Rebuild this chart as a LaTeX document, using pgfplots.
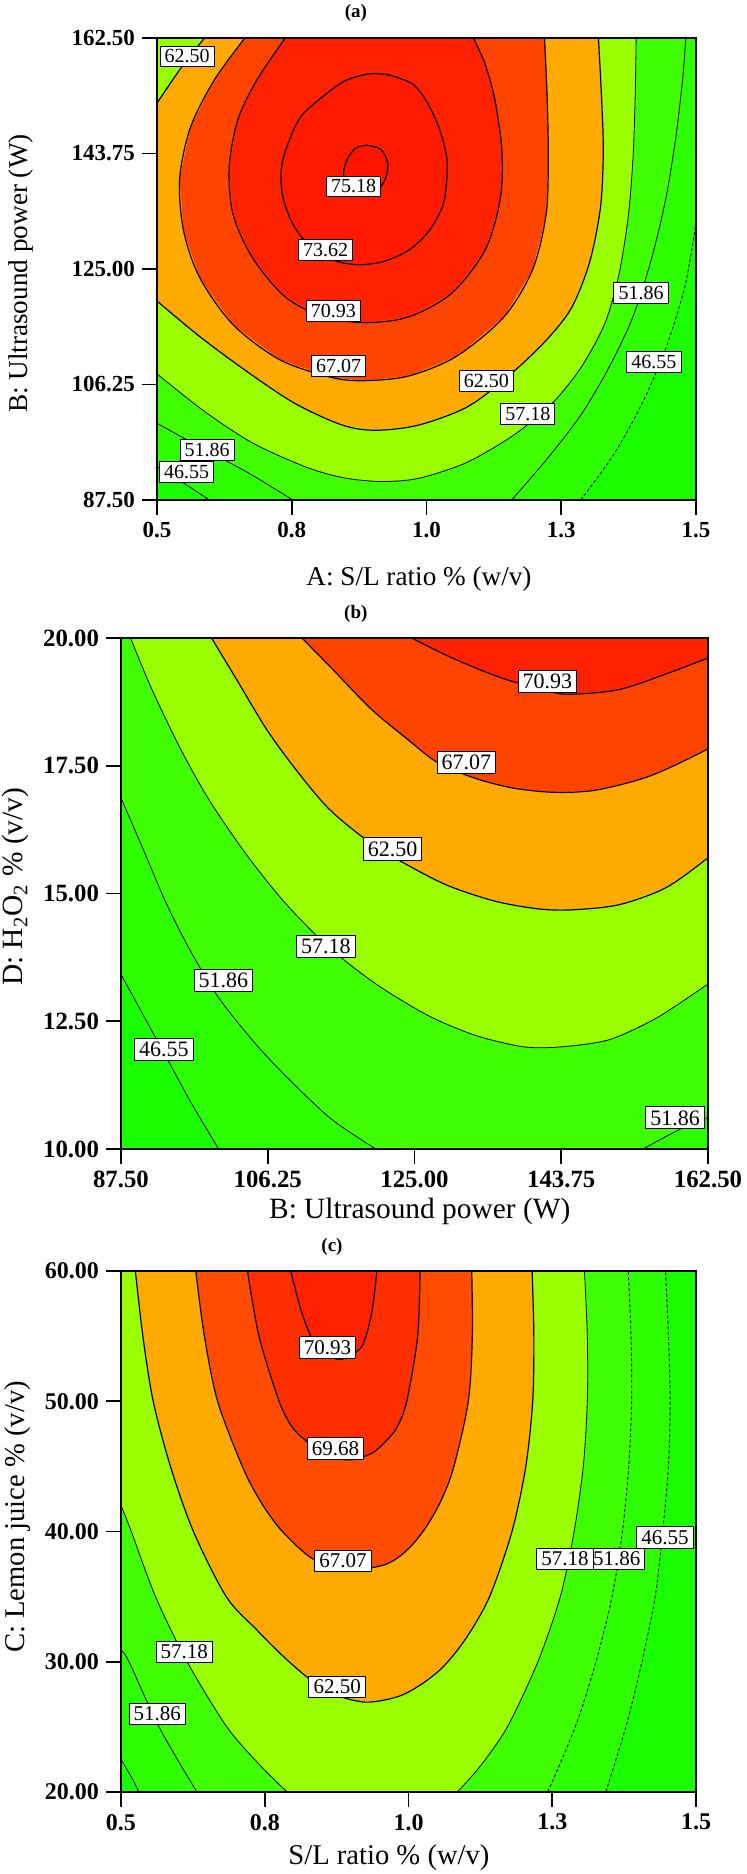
\documentclass[border=0pt]{standalone}
\usepackage{pgfplots}
\pgfplotsset{compat=1.18}
\usepackage{fontspec}
\setmainfont{Liberation Serif}
\definecolor{cA}{RGB}{26,255,0}
\definecolor{cB}{RGB}{46,255,0}
\definecolor{cC}{RGB}{64,255,0}
\definecolor{cD}{RGB}{153,255,0}
\definecolor{cE}{RGB}{255,170,0}
\definecolor{cF}{RGB}{255,68,0}
\definecolor{cG}{RGB}{255,34,0}
\definecolor{cH}{RGB}{255,26,0}
\definecolor{cI}{RGB}{255,20,0}
\definecolor{cF2}{RGB}{255,76,0}
\definecolor{cG2}{RGB}{255,46,0}
\definecolor{cH2}{RGB}{255,32,0}
\pgfplotsset{
  rsm/.style={scale only axis, axis on top, tick align=outside, xtick pos=left, ytick pos=left,
    major tick length=7.5pt, tick style={line width=0.8pt, black}, axis line style={line width=0.8pt},
    axis background/.style={fill=cB}, clip=true, every axis title shift=0pt},
  reg/.style={draw=none, fill=#1},
  cl/.style={black, line width=0.6pt, line join=round, smooth},
  cln/.style={black, line width=0.4pt, line join=round, smooth},
  cld/.style={black, line width=0.45pt, dash pattern=on 1.6pt off 1.1pt, smooth},
  lbl/.style={only marks, mark=*, mark size=0pt, mark options={draw=none, fill=none},
    point meta=explicit symbolic, nodes near coords, nodes near coords align={anchor=center},
    every node near coord/.append style={draw=black, line width=0.5pt, fill=white, text=black,
      inner xsep=2.3pt, inner ysep=1.8pt, font=\fontsize{#1}{#1}\selectfont}},
}
\begin{document}
\begin{tikzpicture}
\useasboundingbox (0,0) rectangle (373pt,-937pt);
% ---------------- (a)
\begin{axis}[rsm, at={(78.5pt,-19pt)}, anchor=north west, width=269.5pt, height=231pt,
  xmin=0.5, xmax=1.5, ymin=87.5, ymax=162.5,
  xtick={0.5,0.75,1,1.25,1.5}, xticklabels={0.5,0.8,1.0,1.3,1.5},
  ytick={87.5,106.25,125,143.75,162.5}, yticklabels={87.50,106.25,125.00,143.75,162.50},
  ticklabel style={font=\bfseries\fontsize{11.5}{11.5}\selectfont},
  xlabel={A: S/L ratio \% (w/v)}, ylabel={B: Ultrasound power (W)},
  xlabel style={at={(axis description cs:0.486,-0.171)}, anchor=center, font=\fontsize{13.6}{13.6}\selectfont},
  ylabel style={at={(axis description cs:-0.252,0.49)}, anchor=center, font=\fontsize{13.6}{13.6}\selectfont},
  title={(a)}, title style={at={(axis description cs:0.369,1.054)}, anchor=center, font=\bfseries\fontsize{9.5}{9.5}\selectfont}]
\addplot[reg=cA] coordinates {(0.5,87.5) (0.5,92.93) (0.553,90.05) (0.597,87.5)};
\addplot[reg=cA] coordinates {(1.286,87.5) (1.347,94.85) (1.400,103.17) (1.444,112.13) (1.480,122.37) (1.5,132.61) (1.5,87.5)};
\addplot[reg=cC] coordinates {(0.5,162.5) (0.5,99.97) (0.579,96.13) (0.668,91.97) (0.752,87.5) (1.158,87.5) (1.224,94.21) (1.286,101.25) (1.338,108.93) (1.383,117.25) (1.418,126.85) (1.444,136.45) (1.462,146.05) (1.475,155.65) (1.481,162.5)};
\addplot[reg=cD] coordinates {(0.5,162.5) (0.5,107.97) (0.588,101.89) (0.677,96.77) (0.774,92.93) (0.844,91.14) (0.915,90.5) (0.985,91.01) (1.074,93.57) (1.162,98.05) (1.233,103.17) (1.286,108.93) (1.330,115.97) (1.356,123.65) (1.374,133.25) (1.383,142.85) (1.387,152.45) (1.389,162.5)};
\addplot[reg=cE] coordinates {(0.5,151.94) (0.5,119.81) (0.579,114.05) (0.668,108.29) (0.756,103.17) (0.844,99.65) (0.906,98.82) (0.985,99.65) (1.074,102.53) (1.144,107.01) (1.215,112.77) (1.268,118.53) (1.303,126.21) (1.323,135.17) (1.328,144.13) (1.325,152.45) (1.319,162.5) (0.588,162.5) (0.544,157.57)};
\addplot[reg=cF] coordinates {(0.663,162.5) (0.606,155.65) (0.562,147.97) (0.542,139.65) (0.549,131.33) (0.579,123.65) (0.641,115.97) (0.729,110.21) (0.827,107.33) (0.888,106.88) (0.968,107.65) (1.056,110.85) (1.144,117.25) (1.197,124.93) (1.222,133.89) (1.226,142.85) (1.224,152.45) (1.219,162.5)};
\addplot[reg=cG] coordinates {(0.738,162.5) (0.685,155.65) (0.650,149.25) (0.634,141.57) (0.641,133.89) (0.677,126.85) (0.738,120.45) (0.809,117.25) (0.888,116.29) (0.968,117.25) (1.047,121.09) (1.109,128.13) (1.137,136.45) (1.140,144.13) (1.127,152.45) (1.109,158.21) (1.087,162.5)};
\addplot[reg=cH] coordinates {(0.931,156.5) (0.975,155.0) (1.003,151.8) (1.025,147.5) (1.038,142.85) (1.037,139) (1.030,135.2) (1.005,131.2) (0.968,128.1) (0.920,126.2) (0.871,125.7) (0.825,126.5) (0.782,128.8) (0.752,132.3) (0.734,136.5) (0.730,140.5) (0.738,144.1) (0.765,149.5) (0.809,153.1) (0.850,155.6) (0.895,156.7) (0.931,156.5)};
\addplot[reg=cI] coordinates {(0.888,145.09) (0.915,144.45) (0.928,142.21) (0.924,139.65) (0.906,137.41) (0.880,136.77) (0.857,137.73) (0.846,140.29) (0.853,142.85) (0.869,144.64) (0.888,145.09)};
% lines
\addplot[cl] coordinates {(0.888,145.09) (0.915,144.45) (0.928,142.21) (0.924,139.65) (0.906,137.41) (0.880,136.77) (0.857,137.73) (0.846,140.29) (0.853,142.85) (0.869,144.64) (0.888,145.09)};
\addplot[cl] coordinates {(0.931,156.5) (0.975,155.0) (1.003,151.8) (1.025,147.5) (1.038,142.85) (1.037,139) (1.030,135.2) (1.005,131.2) (0.968,128.1) (0.920,126.2) (0.871,125.7) (0.825,126.5) (0.782,128.8) (0.752,132.3) (0.734,136.5) (0.730,140.5) (0.738,144.1) (0.765,149.5) (0.809,153.1) (0.850,155.6) (0.895,156.7) (0.931,156.5)};
\addplot[cl] coordinates {(0.738,162.5) (0.685,155.65) (0.650,149.25) (0.634,141.57) (0.641,133.89) (0.677,126.85) (0.738,120.45) (0.809,117.25) (0.888,116.29) (0.968,117.25) (1.047,121.09) (1.109,128.13) (1.137,136.45) (1.140,144.13) (1.127,152.45) (1.109,158.21) (1.087,162.5)};
\addplot[cl] coordinates {(0.663,162.5) (0.606,155.65) (0.562,147.97) (0.542,139.65) (0.549,131.33) (0.579,123.65) (0.641,115.97) (0.729,110.21) (0.827,107.33) (0.888,106.88) (0.968,107.65) (1.056,110.85) (1.144,117.25) (1.197,124.93) (1.222,133.89) (1.226,142.85) (1.224,152.45) (1.219,162.5)};
\addplot[cl] coordinates {(0.5,119.81) (0.579,114.05) (0.668,108.29) (0.756,103.17) (0.844,99.65) (0.906,98.82) (0.985,99.65) (1.074,102.53) (1.144,107.01) (1.215,112.77) (1.268,118.53) (1.303,126.21) (1.323,135.17) (1.328,144.13) (1.325,152.45) (1.319,162.5)};
\addplot[cl] coordinates {(0.5,151.94) (0.544,157.57) (0.588,162.5)};
\addplot[cln] coordinates {(0.5,107.97) (0.588,101.89) (0.677,96.77) (0.774,92.93) (0.844,91.14) (0.915,90.5) (0.985,91.01) (1.074,93.57) (1.162,98.05) (1.233,103.17) (1.286,108.93) (1.330,115.97) (1.356,123.65) (1.374,133.25) (1.383,142.85) (1.387,152.45) (1.389,162.5)};
\addplot[cln] coordinates {(0.5,99.97) (0.579,96.13) (0.668,91.97) (0.752,87.5)};
\addplot[cln] coordinates {(1.158,87.5) (1.224,94.21) (1.286,101.25) (1.338,108.93) (1.383,117.25) (1.418,126.85) (1.444,136.45) (1.462,146.05) (1.475,155.65) (1.481,162.5)};
\addplot[cln] coordinates {(0.5,92.93) (0.553,90.05) (0.597,87.5)};
\addplot[cld] coordinates {(1.286,87.5) (1.347,94.85) (1.400,103.17) (1.444,112.13) (1.480,122.37) (1.5,132.61)};
\addplot[lbl=10] coordinates {(0.556,159.5) [62.50] (0.865,138.4) [75.18] (0.813,128.1) [73.62] (0.827,118.2) [70.93] (0.837,109.25) [67.07] (1.111,106.8) [62.50] (1.188,101.4) [57.18] (1.398,121.1) [51.86] (1.422,109.9) [46.55] (0.593,95.6) [51.86] (0.555,92.05) [46.55]};
\end{axis}
% ---------------- (b)
\begin{axis}[rsm, at={(60.5pt,-319pt)}, anchor=north west, width=293.5pt, height=255.5pt,
  xmin=87.5, xmax=162.5, ymin=10, ymax=20,
  xtick={87.5,106.25,125,143.75,162.5}, xticklabels={87.50,106.25,125.00,143.75,162.50},
  ytick={10,12.5,15,17.5,20}, yticklabels={10.00,12.50,15.00,17.50,20.00},
  ticklabel style={font=\bfseries\fontsize{12.4}{12.4}\selectfont},
  xlabel={B: Ultrasound power (W)}, ylabel={D: H\textsubscript{2}O\textsubscript{2} \% (v/v)},
  xlabel style={at={(axis description cs:0.509,-0.1225)}, anchor=center, font=\fontsize{14.7}{14.7}\selectfont},
  ylabel style={at={(axis description cs:-0.179,0.513)}, anchor=center, font=\fontsize{14.7}{14.7}\selectfont},
  title={(b)}, title style={at={(axis description cs:0.40,1.047)}, anchor=center, font=\bfseries\fontsize{9.5}{9.5}\selectfont}]
\addplot[reg=cA] coordinates {(87.5,10) (87.5,13.42) (90.24,12.65) (93.28,11.80) (96.33,10.94) (99.98,10)};
\addplot[reg=cC] coordinates {(87.5,20) (87.5,16.87) (90.24,15.90) (93.28,14.81) (96.33,13.89) (99.98,12.96) (104.85,12.03) (109.72,11.25) (114.59,10.56) (120.07,10) (154.2,10) (158.7,10.37) (162.5,10.62) (162.5,20)};
\addplot[reg=cD] coordinates {(88.72,20) (91.46,18.99) (95.11,17.83) (98.76,16.83) (103.63,15.74) (108.50,14.81) (113.98,13.96) (120.07,13.23) (126.77,12.61) (132.86,12.22) (138.94,12.00) (143.81,12.00) (149.90,12.14) (155.99,12.57) (162.5,13.23) (162.5,20)};
\addplot[reg=cE] coordinates {(99.07,20) (102.42,19.15) (106.07,18.22) (109.72,17.45) (113.98,16.67) (118.85,16.05) (123.72,15.59) (129.20,15.16) (135.29,14.85) (140.77,14.70) (145.03,14.68) (151.12,14.78) (157.21,15.12) (162.5,15.70) (162.5,20)};
\addplot[reg=cF] coordinates {(110.63,20) (114.59,19.38) (119.46,18.61) (124.33,17.99) (127.98,17.56) (132.85,17.25) (137.72,17.06) (142.90,16.98) (148.07,17.02) (154.16,17.25) (158.42,17.52) (162.5,17.83) (162.5,20)};
\addplot[reg=cG] coordinates {(124.64,20) (129.81,19.61) (135.90,19.23) (141.99,18.96) (145.03,18.90) (151.12,18.99) (157.21,19.30) (162.5,19.61) (162.5,20)};
\addplot[cln] coordinates {(87.5,13.42) (90.24,12.65) (93.28,11.80) (96.33,10.94) (99.98,10)};
\addplot[cln] coordinates {(87.5,16.87) (90.24,15.90) (93.28,14.81) (96.33,13.89) (99.98,12.96) (104.85,12.03) (109.72,11.25) (114.59,10.56) (120.07,10)};
\addplot[cln] coordinates {(154.2,10) (158.7,10.37) (162.5,10.62)};
\addplot[cln] coordinates {(88.72,20) (91.46,18.99) (95.11,17.83) (98.76,16.83) (103.63,15.74) (108.50,14.81) (113.98,13.96) (120.07,13.23) (126.77,12.61) (132.86,12.22) (138.94,12.00) (143.81,12.00) (149.90,12.14) (155.99,12.57) (162.5,13.23)};
\addplot[cl] coordinates {(99.07,20) (102.42,19.15) (106.07,18.22) (109.72,17.45) (113.98,16.67) (118.85,16.05) (123.72,15.59) (129.20,15.16) (135.29,14.85) (140.77,14.70) (145.03,14.68) (151.12,14.78) (157.21,15.12) (162.5,15.70)};
\addplot[cl] coordinates {(110.63,20) (114.59,19.38) (119.46,18.61) (124.33,17.99) (127.98,17.56) (132.85,17.25) (137.72,17.06) (142.90,16.98) (148.07,17.02) (154.16,17.25) (158.42,17.52) (162.5,17.83)};
\addplot[cl] coordinates {(124.64,20) (129.81,19.61) (135.90,19.23) (141.99,18.96) (145.03,18.90) (151.12,18.99) (157.21,19.30) (162.5,19.61)};
\addplot[lbl=11] coordinates {(141.99,19.15) [70.93] (131.64,17.56) [67.07] (122.2,15.87) [62.50] (113.68,13.96) [57.18] (100.59,13.30) [51.86] (92.98,11.95) [46.55] (158.3,10.61) [51.86]};
\end{axis}
% ---------------- (c)
\begin{axis}[rsm, at={(60.5pt,-635.5pt)}, anchor=north west, width=287.5pt, height=260.5pt,
  xmin=0.5, xmax=1.5, ymin=20, ymax=60,
  xtick={0.5,0.75,1,1.25,1.5}, xticklabels={0.5,0.8,1.0,1.3,1.5},
  ytick={20,30,40,50,60}, yticklabels={20.00,30.00,40.00,50.00,60.00},
  ticklabel style={font=\bfseries\fontsize{12}{12}\selectfont},
  xlabel={S/L ratio \% (w/v)}, ylabel={C: Lemon juice \% (v/v)},
  xlabel style={at={(axis description cs:0.466,-0.125)}, anchor=center, font=\fontsize{14.3}{14.3}\selectfont},
  ylabel style={at={(axis description cs:-0.179,0.528)}, anchor=center, font=\fontsize{14.3}{14.3}\selectfont},
  title={(c)}, title style={at={(axis description cs:0.367,1.046)}, anchor=center, font=\bfseries\fontsize{9.5}{9.5}\selectfont}]
\addplot[reg=cA] coordinates {(0.5,20) (0.5,22.5) (0.52,21) (0.531,20)};
\addplot[reg=cA] coordinates {(1.343,20) (1.378,25) (1.406,30) (1.429,35) (1.442,40) (1.452,45) (1.455,50) (1.452,55) (1.447,60) (1.5,60) (1.5,20)};
\addplot[reg=cC] coordinates {(0.5,60) (0.5,30.9) (0.514,30) (0.566,25) (0.632,20) (1.242,20) (1.290,25) (1.326,30) (1.354,35) (1.372,40) (1.383,45) (1.388,50) (1.387,55) (1.382,60)};
\addplot[reg=cD] coordinates {(0.5,60) (0.5,42.0) (0.518,40) (0.560,35) (0.615,30) (0.684,25) (0.743,22) (0.789,20) (1.085,20) (1.125,22) (1.172,25) (1.225,30) (1.264,35) (1.288,40) (1.304,45) (1.311,50) (1.311,55) (1.306,60)};
\addplot[reg=cE] coordinates {(0.525,60) (0.538,55) (0.556,50) (0.586,45) (0.626,40) (0.683,35) (0.735,32.5) (0.785,30.3) (0.830,28.6) (0.870,27.5) (0.925,26.9) (0.980,27.3) (1.020,28.2) (1.060,29.6) (1.100,31.8) (1.141,35) (1.180,40) (1.204,45) (1.216,50) (1.218,55) (1.215,60)};
\addplot[reg=cF2] coordinates {(0.630,60) (0.645,55) (0.668,50) (0.711,45) (0.740,42.5) (0.771,40.5) (0.803,39) (0.830,38) (0.860,37.4) (0.908,37.1) (0.955,37.4) (0.982,38) (1.007,39) (1.033,40.5) (1.058,42.5) (1.079,45) (1.104,50) (1.111,55) (1.110,60)};
\addplot[reg=cG2] coordinates {(0.720,60) (0.740,55) (0.775,50) (0.798,48) (0.821,47) (0.850,46) (0.895,45.5) (0.936,46) (0.962,47) (0.980,48) (0.997,50) (1.016,55) (1.020,60)};
\addplot[reg=cH2] coordinates {(0.795,60) (0.813,57) (0.830,55) (0.845,54) (0.880,53.2) (0.915,54) (0.926,55) (0.937,57) (0.945,60)};
\addplot[cl] coordinates {(0.795,60) (0.813,57) (0.830,55) (0.845,54) (0.880,53.2) (0.915,54) (0.926,55) (0.937,57) (0.945,60)};
\addplot[cl] coordinates {(0.720,60) (0.740,55) (0.775,50) (0.798,48) (0.821,47) (0.850,46) (0.895,45.5) (0.936,46) (0.962,47) (0.980,48) (0.997,50) (1.016,55) (1.020,60)};
\addplot[cl] coordinates {(0.630,60) (0.645,55) (0.668,50) (0.711,45) (0.740,42.5) (0.771,40.5) (0.803,39) (0.830,38) (0.860,37.4) (0.908,37.1) (0.955,37.4) (0.982,38) (1.007,39) (1.033,40.5) (1.058,42.5) (1.079,45) (1.104,50) (1.111,55) (1.110,60)};
\addplot[cl] coordinates {(0.525,60) (0.538,55) (0.556,50) (0.586,45) (0.626,40) (0.683,35) (0.735,32.5) (0.785,30.3) (0.830,28.6) (0.870,27.5) (0.925,26.9) (0.980,27.3) (1.020,28.2) (1.060,29.6) (1.100,31.8) (1.141,35) (1.180,40) (1.204,45) (1.216,50) (1.218,55) (1.215,60)};
\addplot[cln] coordinates {(0.5,42.0) (0.518,40) (0.560,35) (0.615,30) (0.684,25) (0.743,22) (0.789,20)};
\addplot[cln] coordinates {(1.085,20) (1.125,22) (1.172,25) (1.225,30) (1.264,35) (1.288,40) (1.304,45) (1.311,50) (1.311,55) (1.306,60)};
\addplot[cln] coordinates {(0.5,30.9) (0.514,30) (0.566,25) (0.632,20)};
\addplot[cld] coordinates {(1.242,20) (1.290,25) (1.326,30) (1.354,35) (1.372,40) (1.383,45) (1.388,50) (1.387,55) (1.382,60)};
\addplot[cln] coordinates {(0.5,22.5) (0.52,21) (0.531,20)};
\addplot[cld] coordinates {(1.343,20) (1.378,25) (1.406,30) (1.429,35) (1.442,40) (1.452,45) (1.455,50) (1.452,55) (1.447,60)};
\addplot[lbl=10.5] coordinates {(0.859,54.13) [70.93] (0.873,46.38) [69.68] (0.886,37.74) [67.07] (0.876,28.08) [62.50] (1.362,37.9) [51.86] (1.272,37.9) [57.18] (1.446,39.55) [46.55] (0.610,30.75) [57.18] (0.563,26.0) [51.86]};
\end{axis}
\end{tikzpicture}
\end{document}
